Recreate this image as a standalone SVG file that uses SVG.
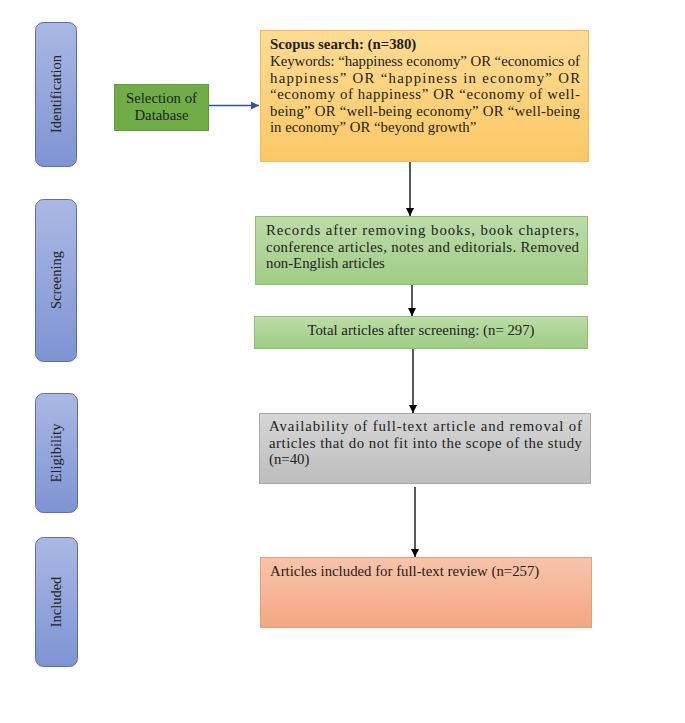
<svg xmlns="http://www.w3.org/2000/svg" width="685" height="723" viewBox="0 0 685 723">
<defs>
<linearGradient id="gBlue" x1="0" y1="0" x2="0" y2="1"><stop offset="0" stop-color="#aab8e4"/><stop offset="1" stop-color="#7e93d3"/></linearGradient>
<linearGradient id="gOrange" x1="0" y1="0" x2="0" y2="1"><stop offset="0" stop-color="#fedc95"/><stop offset="1" stop-color="#fbc866"/></linearGradient>
<linearGradient id="gGreen" x1="0" y1="0" x2="0" y2="1"><stop offset="0" stop-color="#bcdcaa"/><stop offset="1" stop-color="#9fcd84"/></linearGradient>
<linearGradient id="gGray" x1="0" y1="0" x2="0" y2="1"><stop offset="0" stop-color="#d6d6d6"/><stop offset="1" stop-color="#bdbdbd"/></linearGradient>
<linearGradient id="gSalmon" x1="0" y1="0" x2="0" y2="1"><stop offset="0" stop-color="#f8c4ab"/><stop offset="1" stop-color="#f4a683"/></linearGradient>
<marker id="arrK" viewBox="0 0 10 10" refX="10" refY="5" markerWidth="8" markerHeight="8" markerUnits="userSpaceOnUse" orient="auto"><path d="M0,0 L10,5 L0,10 z" fill="#000"/></marker>
<marker id="arrB" viewBox="0 0 10 10" refX="10" refY="5" markerWidth="8" markerHeight="8" markerUnits="userSpaceOnUse" orient="auto"><path d="M0,0 L10,5 L0,10 z" fill="#2f5597"/></marker>
</defs>
<style>
.t{font-family:"Liberation Serif","Times New Roman",serif;font-size:14.8px;fill:#222}
.s{font-size:14.5px}
.side{fill:url(#gBlue);stroke:#5b6fa6;stroke-width:1}
.box{stroke-width:1}
.lk{stroke:#000;stroke-width:1.3;fill:none;marker-end:url(#arrK)}
.lb{stroke:#2f5597;stroke-width:1.3;fill:none;marker-end:url(#arrB)}
</style>
<rect width="685" height="723" fill="#fff"/>

<g id="stage-identification">
<rect class="side" x="35.5" y="22.5" width="41" height="144" rx="8"/>
<text class="t s" transform="translate(61,94) rotate(-90)" text-anchor="middle">Identification</text>
</g>
<g id="stage-screening">
<rect class="side" x="35.5" y="199.5" width="41" height="162" rx="8"/>
<text class="t s" transform="translate(61,280) rotate(-90)" text-anchor="middle">Screening</text>
</g>
<g id="stage-eligibility">
<rect class="side" x="35.5" y="393.5" width="42" height="119" rx="8"/>
<text class="t s" transform="translate(61,453) rotate(-90)" text-anchor="middle">Eligibility</text>
</g>
<g id="stage-included">
<rect class="side" x="35.5" y="537.5" width="42" height="129" rx="8"/>
<text class="t s" transform="translate(61,602) rotate(-90)" text-anchor="middle">Included</text>
</g>

<g id="selection-database">
<rect x="114.5" y="84.5" width="94" height="46" fill="#70ad47" stroke="#5e9a3a"/>
<text class="t" x="161.5" y="103" text-anchor="middle">Selection of</text>
<text class="t" x="161.5" y="120" text-anchor="middle">Database</text>
</g>

<g id="scopus-search">
<rect class="box" x="260.5" y="30.5" width="328" height="131" fill="url(#gOrange)" stroke="#f2b85c"/>
<text class="t" x="270" y="49" font-weight="bold">Scopus search: (n=380)</text>
<text class="t" x="270" y="66" textLength="310" lengthAdjust="spacing">Keywords: “happiness economy” OR “economics of</text>
<text class="t" x="270" y="82.5" textLength="310" lengthAdjust="spacing">happiness” OR “happiness in economy” OR</text>
<text class="t" x="270" y="99" textLength="310" lengthAdjust="spacing">“economy of happiness” OR “economy of well-</text>
<text class="t" x="270" y="115.5" textLength="310" lengthAdjust="spacing">being” OR “well-being economy” OR “well-being</text>
<text class="t" x="270" y="132">in economy” OR “beyond growth”</text>
</g>

<g id="records-after-removal">
<rect class="box" x="255.5" y="216.5" width="332" height="68" fill="url(#gGreen)" stroke="#8fc070"/>
<text class="t" x="266" y="235" textLength="313" lengthAdjust="spacing">Records after removing books, book chapters,</text>
<text class="t" x="266" y="251.5" textLength="313" lengthAdjust="spacing">conference articles, notes and editorials. Removed</text>
<text class="t" x="266" y="268">non-English articles</text>
</g>

<g id="total-after-screening">
<rect class="box" x="254.5" y="316.5" width="333" height="32" fill="url(#gGreen)" stroke="#8fc070"/>
<text class="t" x="421" y="335" text-anchor="middle">Total articles after screening: (n= 297)</text>
</g>

<g id="eligibility-removal">
<rect class="box" x="259.5" y="413.5" width="331" height="70" fill="url(#gGray)" stroke="#a9a9a9"/>
<text class="t" x="269" y="431" textLength="313" lengthAdjust="spacing">Availability of full-text article and removal of</text>
<text class="t" x="269" y="447.5" textLength="313" lengthAdjust="spacing">articles that do not fit into the scope of the study</text>
<text class="t" x="269" y="464">(n=40)</text>
</g>

<g id="included-review">
<rect class="box" x="260.5" y="557.5" width="331" height="70" fill="url(#gSalmon)" stroke="#e0a080"/>
<text class="t" x="270" y="576">Articles included for full-text review (n=257)</text>
</g>

<g id="connectors">
<line class="lb" x1="209" y1="105.5" x2="259" y2="105.5"/>
<line class="lk" x1="410" y1="162" x2="410" y2="216"/>
<line class="lk" x1="412" y1="285" x2="412" y2="316"/>
<line class="lk" x1="413" y1="349" x2="413" y2="413"/>
<line class="lk" x1="415" y1="487" x2="415" y2="557"/>
</g>
</svg>
